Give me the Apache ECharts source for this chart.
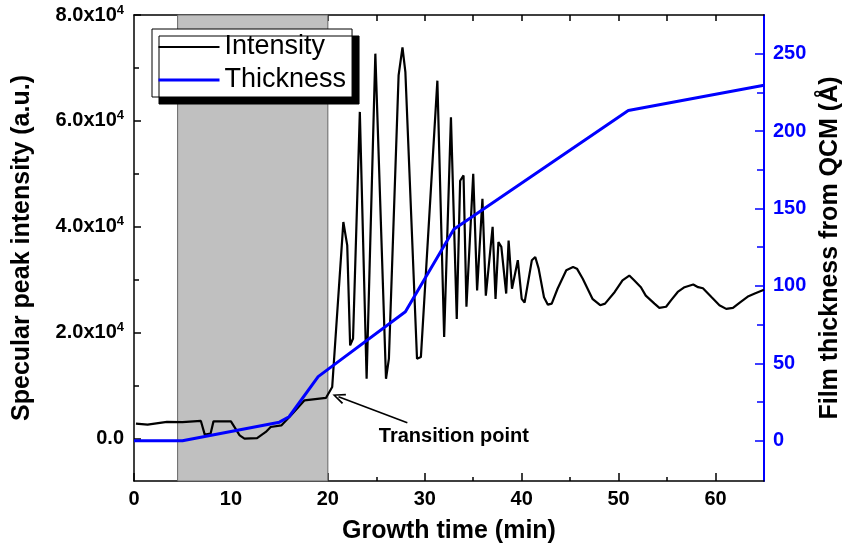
<!DOCTYPE html>
<html><head><meta charset="utf-8">
<script src="https://cdn.jsdelivr.net/npm/echarts@6/dist/echarts.min.js"></script>
<style>html,body{margin:0;padding:0;background:#fff}#c{width:843px;height:551px}</style>
</head><body><div id="c"></div>
<script>
// ---- data ----
const timeIntensity = [0.2,1.4,3.4,5.0,6.9,7.3,7.9,8.2,10.0,10.9,11.4,12.7,13.6,14.1,15.2,16.2,17.6,19.8,20.45,21.6,22.0,22.3,22.6,23.3,24.0,24.9,26.0,26.3,27.3,27.7,28.0,29.2,29.6,31.3,32.0,32.7,33.3,33.65,34.0,34.3,35.0,35.4,35.95,36.3,37.0,37.3,37.6,37.9,38.4,38.65,39.0,39.6,40.0,40.3,41.05,41.4,41.75,42.3,42.7,43.1,43.7,44.6,45.3,45.7,46.3,47.3,48.1,48.6,49.6,50.4,51.1,51.6,52.3,52.8,53.7,54.2,54.9,55.4,56.1,56.8,57.7,58.2,58.7,59.6,60.4,61.1,61.8,62.5,63.4,64.05,65.0];
const intensity = [2830,2640,3150,3100,3340,750,940,3260,3260,620,0,100,1260,2200,2500,4400,7230,7680,9760,40900,36500,17600,18900,61700,11300,72700,11300,15100,68600,73900,69200,15100,15400,67600,19200,60700,22600,48700,49700,24900,50000,28000,45300,27000,40000,26400,37100,36200,27400,37400,28300,33700,26400,25700,33700,34300,32100,26700,25300,25500,28300,31800,32400,32100,30200,26400,25200,25500,27700,29900,30800,29900,28600,27000,25500,24700,24900,26100,27700,28600,29100,28600,28400,26700,25200,24500,24700,25700,26900,27400,28100];
const timeThickness = [0,5,15,16,19,28,33,51,65];
const thickness = [0,0,12,15.5,41.4,83.3,136.6,213.3,229.6];
const xMajorTicks = [0,10,20,30,40,50,60];
const xMinorTicks = [5,15,25,35,45,55];
const xTopTicks = [5,10,15,20,25,30,35,40,45,50,55,60];
const leftMajorTicks = [0,20000,40000,60000,80000];
const leftMinorTicks = [10000,30000,50000,70000];
const rightMajorTicks = [0,50,100,150,200,250];
const rightMinorTicks = [25,75,125,175,225];
const shadedRange = [4.5, 20];
const arrowFrom = [28.2, 3000];
const arrowTo = [21.1, 7900];
const noteAt = [33.0, 380];
const noteText = 'Transition point';

// ---- chart ----
const FONT = '"Liberation Sans", Arial, sans-serif';
const BLUE = '#0000ff';
const chart = echarts.init(document.getElementById('c'), null, {renderer: 'canvas'});
const tickStyle = c => ({color: c, width: 1.5});
const xBase = {type: 'value', min: 0, max: 65, splitLine: {show: false}};
const yLeftBase = {type: 'value', min: -8000, max: 80000, position: 'left', splitLine: {show: false}};
const yRightBase = {type: 'value', min: -26, max: 275, position: 'right', splitLine: {show: false}};
const titleStyle = {fontSize: 25, fontWeight: 'bold', color: '#000', fontFamily: FONT};

chart.setOption({
  animation: false,
  backgroundColor: '#fff',
  grid: {left: 134, right: 79, top: 15, bottom: 70, containLabel: false, outerBoundsMode: 'none'},
  legend: {
    data: [
      {name: 'Intensity', lineStyle: {width: 2, color: '#000'}},
      {name: 'Thickness', lineStyle: {width: 3, color: BLUE}}
    ],
    orient: 'vertical', left: 152, top: 29,
    itemWidth: 61, itemHeight: 14, itemGap: 5, padding: [4, 6, 3, 5],
    backgroundColor: '#fff', borderColor: '#000', borderWidth: 1,
    shadowColor: '#000', shadowOffsetX: 7, shadowOffsetY: 7, shadowBlur: 0,
    itemStyle: {opacity: 0},
    textStyle: {fontSize: 27, fontFamily: FONT, color: '#000', lineHeight: 28},
    selectedMode: false
  },
  xAxis: [
    Object.assign({}, xBase, {
      position: 'bottom',
      axisLine: {show: true, onZero: false, lineStyle: {color: '#000', width: 1.5}},
      axisTick: {show: true, inside: true, length: 8, customValues: xMajorTicks, lineStyle: tickStyle('#000')},
      axisLabel: {customValues: xMajorTicks, fontSize: 20, fontWeight: 'bold', color: '#000', fontFamily: FONT, margin: 8},
      name: 'Growth time (min)', nameLocation: 'middle', nameGap: 38,
      nameTextStyle: titleStyle
    }),
    Object.assign({}, xBase, {
      position: 'bottom', axisLine: {show: false, onZero: false},
      axisTick: {show: true, inside: true, length: 4, customValues: xMinorTicks, lineStyle: tickStyle('#000')},
      axisLabel: {show: false}
    }),
    Object.assign({}, xBase, {
      position: 'top',
      axisLine: {show: true, onZero: false, lineStyle: {color: '#000', width: 1.5}},
      axisTick: {show: true, inside: true, length: 6, customValues: xTopTicks, lineStyle: tickStyle('#000')},
      axisLabel: {show: false}
    })
  ],
  yAxis: [
    Object.assign({}, yLeftBase, {
      axisLine: {show: true, onZero: false, lineStyle: {color: '#000', width: 1.5}},
      axisTick: {show: true, inside: true, length: 7, customValues: leftMajorTicks, lineStyle: tickStyle('#000')},
      axisLabel: {
        customValues: leftMajorTicks, fontSize: 20, fontWeight: 'bold', color: '#000', fontFamily: FONT, margin: 10,
        formatter: v => v === 0 ? '0.0' : (v / 10000).toFixed(1) + 'x10{sup|4}',
        rich: {sup: {fontSize: 13, fontWeight: 'bold', color: '#000', fontFamily: FONT, padding: [0, 0, 10, 0]}}
      },
      name: 'Specular peak intensity (a.u.)', nameLocation: 'middle', nameGap: 99,
      nameTextStyle: titleStyle
    }),
    Object.assign({}, yLeftBase, {
      axisLine: {show: false, onZero: false},
      axisTick: {show: true, inside: true, length: 5, customValues: leftMinorTicks, lineStyle: tickStyle('#000')},
      axisLabel: {show: false}
    }),
    Object.assign({}, yRightBase, {
      axisLine: {show: true, onZero: false, lineStyle: {color: BLUE, width: 2}},
      axisTick: {show: true, inside: true, length: 9, customValues: rightMajorTicks, lineStyle: tickStyle(BLUE)},
      axisLabel: {customValues: rightMajorTicks, fontSize: 20, fontWeight: 'bold', color: BLUE, fontFamily: FONT, margin: 9},
      name: 'Film thickness from QCM (Å)', nameLocation: 'middle', nameGap: 54,
      nameTextStyle: titleStyle
    }),
    Object.assign({}, yRightBase, {
      axisLine: {show: false, onZero: false},
      axisTick: {show: true, inside: true, length: 7, customValues: rightMinorTicks, lineStyle: tickStyle(BLUE)},
      axisLabel: {show: false}
    })
  ],
  series: [
    {
      name: 'Intensity', type: 'line', xAxisIndex: 0, yAxisIndex: 0, z: 3,
      symbol: 'none', smooth: false,
      lineStyle: {color: '#000', width: 2.2}, itemStyle: {color: '#000'},
      data: timeIntensity.map((t, i) => [t, intensity[i]]),
      markArea: {
        silent: true,
        itemStyle: {color: '#c0c0c0', borderColor: '#666', borderWidth: 1},
        data: [[{xAxis: shadedRange[0]}, {xAxis: shadedRange[1]}]]
      },
      markLine: {
        silent: true, animation: false,
        symbol: ['none', 'path://M5,0 L10,12 L8.6,12.8 L5,3.6 L1.4,12.8 L0,12 Z'],
        symbolSize: [11, 13],
        lineStyle: {color: '#000', width: 1.6, type: 'solid'},
        label: {show: false}, emphasis: {disabled: true},
        data: [[{coord: arrowFrom}, {coord: arrowTo}]]
      },
      markPoint: {
        silent: true, symbol: 'circle', symbolSize: 1, itemStyle: {color: 'rgba(0,0,0,0)'},
        label: {show: true, position: 'inside', formatter: noteText, fontSize: 20, fontWeight: 'bold', color: '#000', fontFamily: FONT},
        data: [{coord: noteAt}]
      }
    },
    {
      name: 'Thickness', type: 'line', xAxisIndex: 0, yAxisIndex: 2, z: 4,
      symbol: 'none', smooth: false,
      lineStyle: {color: BLUE, width: 3}, itemStyle: {color: BLUE},
      data: timeThickness.map((t, i) => [t, thickness[i]])
    }
  ]
});
</script>
</body></html>
